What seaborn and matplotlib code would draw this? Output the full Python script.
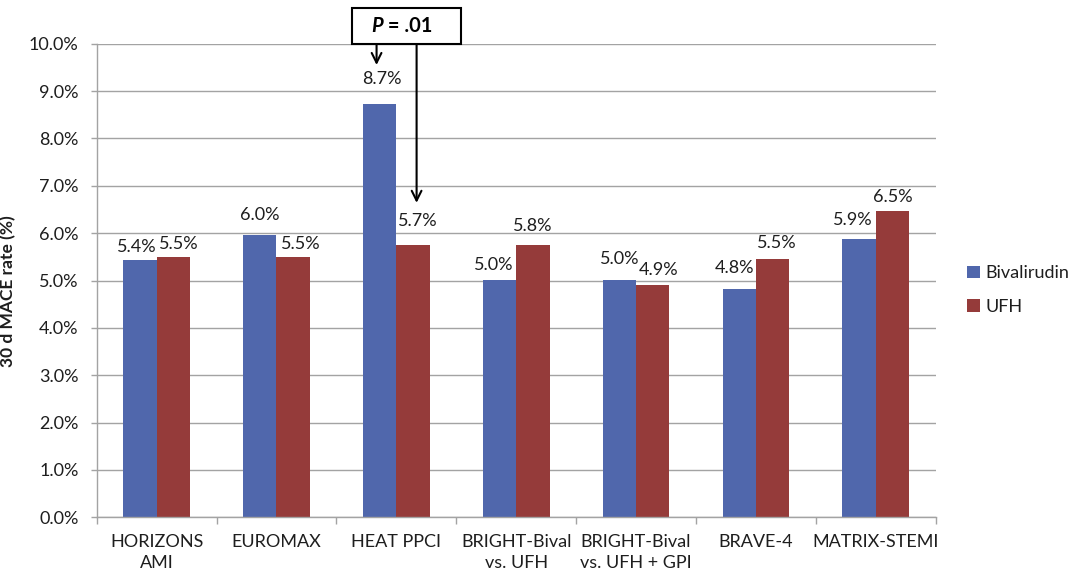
import numpy as np
import pandas as pd
import matplotlib
matplotlib.use("Agg")
import matplotlib.pyplot as plt
import seaborn as sns

# ---- data -----------------------------------------------------------------
trials = ["HORIZONS\nAMI", "EUROMAX", "HEAT PPCI", "BRIGHT-Bival\nvs. UFH",
          "BRIGHT-Bival\nvs. UFH + GPI", "BRAVE-4", "MATRIX-STEMI"]
bivalirudin = [5.43, 5.96, 8.72, 5.02, 5.02, 4.82, 5.87]
ufh = [5.50, 5.50, 5.74, 5.76, 4.91, 5.46, 6.46]
series_names = ["Bivalirudin", "UFH"]
y_ticks = [0, 1, 2, 3, 4, 5, 6, 7, 8, 9, 10]
p_value_text = ".01"

# ---- styling ---------------------------------------------------------------
colors = {"Bivalirudin": "#5067AC", "UFH": "#953B3A"}
grid_color = "#A3A3A3"
text_color = "#1E1E1E"
font_size = 13
# value-label nudges (pixels) so neighbouring labels do not collide
label_nudges = {
    "Bivalirudin": [(-3, 13.5), (0, 20), (2, 25), (-5.5, 14.5), (0, 21), (-5, 20.6), (-6, 19.6)],
    "UFH": [(6, 12.6), (8, 12.6), (5, 24), (0, 18.7), (5.5, 15), (4, 15.5), (0, 14.2)],
}

sns.set_style("white")
plt.rcParams["font.family"] = ["Lato", "DejaVu Sans"]
plt.rcParams["text.color"] = text_color
plt.rcParams["axes.labelcolor"] = text_color
plt.rcParams["xtick.color"] = grid_color
plt.rcParams["ytick.color"] = grid_color
plt.rcParams["xtick.labelcolor"] = text_color
plt.rcParams["ytick.labelcolor"] = text_color

df = pd.DataFrame({
    "trial": trials * 2,
    "rate": bivalirudin + ufh,
    "drug": [series_names[0]] * len(trials) + [series_names[1]] * len(trials),
})

fig = plt.figure(figsize=(10.78, 5.71), dpi=100)
ax = fig.add_axes([0.0897, 0.0940, 0.7783, 0.8295])

sns.barplot(data=df, x="trial", y="rate", hue="drug", order=trials,
            hue_order=series_names, palette=colors, width=0.556, gap=0,
            saturation=1, linewidth=0, edgecolor="none", legend=True, ax=ax)

# axes, grid and ticks
ax.set_ylim(0, 10)
ax.set_xlim(-0.5, len(trials) - 0.5)
ax.set_yticks(y_ticks)
ax.set_yticklabels([f"{t:.1f}%" for t in y_ticks], fontsize=font_size)
ax.set_axisbelow(True)
ax.yaxis.grid(True, color=grid_color, linewidth=1.0)
ax.xaxis.grid(False)
ax.tick_params(axis="y", length=4, width=1.0, pad=9, left=True)

ax.set_xticks(np.arange(-0.5, len(trials), 1.0))
ax.set_xticklabels([])
ax.tick_params(axis="x", which="major", length=5, width=1.0, bottom=True)
ax.set_xticks(np.arange(len(trials)), minor=True)
ax.set_xticklabels(trials, minor=True, fontsize=font_size, linespacing=1.4)
ax.tick_params(axis="x", which="minor", length=0, pad=12)
ax.set_xlabel("")

for side in ("top", "right"):
    ax.spines[side].set_visible(False)
for side in ("left", "bottom"):
    ax.spines[side].set_color(grid_color)
    ax.spines[side].set_linewidth(1.0)

ax.set_ylabel("30 d MACE rate (%)", fontsize=12.5, fontweight="bold")
ax.yaxis.set_label_coords(-0.096, 0.478)

# value labels above each bar
for name, container in zip(series_names, ax.containers):
    for bar, (dx, dy) in zip(container.patches, label_nudges[name]):
        h = bar.get_height()
        ax.annotate(f"{h:.1f}%", xy=(bar.get_x() + bar.get_width() / 2, h),
                    xytext=(dx, dy), textcoords="offset pixels",
                    ha="center", va="center", fontsize=font_size, color=text_color)

# legend
handles, labels = ax.get_legend_handles_labels()
ax.legend(handles, labels, loc="center left", bbox_to_anchor=(0.897, 0.492),
          bbox_transform=fig.transFigure, frameon=False, fontsize=font_size,
          handlelength=0.7, handleheight=0.7, handletextpad=0.3,
          labelspacing=0.95, borderpad=0, borderaxespad=0)

# significance callout for HEAT PPCI
box = plt.Rectangle((1.627, 10.0), 0.909, 0.754, transform=ax.transData,
                    facecolor="white", edgecolor="black", linewidth=1.5,
                    clip_on=False, zorder=5)
ax.add_patch(box)
ax.text(1.888, 10.377, "P", ha="right", va="center", fontsize=14.5,
        fontweight="bold", fontstyle="italic", color="black", zorder=6,
        clip_on=False)
ax.text(1.888, 10.377, " = " + p_value_text, ha="left", va="center",
        fontsize=14.5, fontweight="bold", color="black", zorder=6,
        clip_on=False)
arrow_style = dict(arrowstyle="->,head_length=0.7,head_width=0.35",
                   color="black", lw=1.5, shrinkA=0, shrinkB=0)
ax.annotate("", xy=(1.835, 9.55), xytext=(1.835, 10.0),
            arrowprops=arrow_style, annotation_clip=False)
ax.annotate("", xy=(2.169, 6.64), xytext=(2.169, 10.0),
            arrowprops=arrow_style, annotation_clip=False)

fig.savefig("out.png", dpi=100)
